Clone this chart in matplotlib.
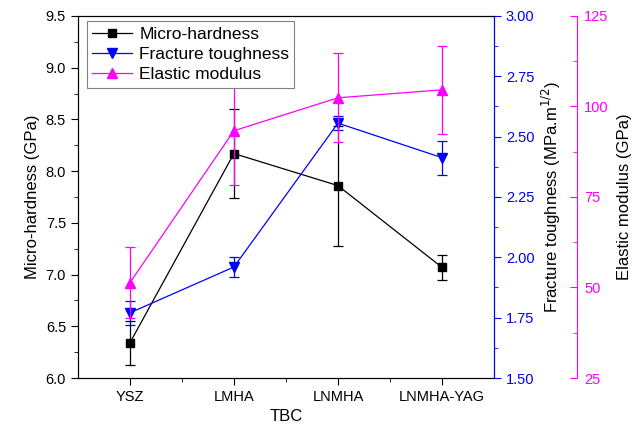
import numpy as np
import matplotlib
matplotlib.use('Agg')
import matplotlib.pyplot as plt
from matplotlib.lines import Line2D

plt.rcParams['font.family'] = ['Liberation Sans', 'DejaVu Sans']

# ==================== Data ====================
tbc = ['YSZ', 'LMHA', 'LNMHA', 'LNMHA-YAG']

hardness = [6.34, 8.17, 7.86, 7.07]
hardness_err = [0.21, 0.43, 0.58, 0.12]

toughness = [1.77, 1.96, 2.556, 2.413]
toughness_err = [0.05, 0.04, 0.03, 0.07]

modulus = [51.3, 93.3, 102.4, 104.6]
modulus_err = [9.8, 15.0, 12.3, 12.2]

x = np.arange(len(tbc))

fig = plt.figure(figsize=(6.44, 4.32), dpi=100)
ax1 = fig.add_axes([0.121, 0.125, 0.646, 0.838])

magenta = '#FF00FF'
blue = '#0000FF'

# ==================== Left axis: micro-hardness ====================
ax1.errorbar(x, hardness, yerr=hardness_err, color='black', marker='s',
             markersize=6, lw=0.9, elinewidth=0.9, capsize=3.5, capthick=0.9)
ax1.set_xlim(-0.5, 3.5)
ax1.set_ylim(6.0, 9.5)
ax1.set_yticks(np.arange(6.0, 9.51, 0.5))
ax1.set_yticks(np.arange(6.25, 9.5, 0.5), minor=True)
ax1.set_ylabel('Micro-hardness (GPa)', fontsize=12)
ax1.set_xlabel('TBC', fontsize=12)
ax1.set_xticks(x)
ax1.set_xticklabels(tbc)
ax1.set_xticks(x[:-1] + 0.5, minor=True)
ax1.tick_params(axis='both', which='major', labelsize=10.5, length=5, direction='out')
ax1.tick_params(axis='both', which='minor', length=3, direction='out')
ax1.tick_params(axis='y', which='both', right=False)
ax1.yaxis.set_major_formatter(matplotlib.ticker.FormatStrFormatter('%.1f'))

# ==================== Right axis 1: fracture toughness ====================
ax2 = ax1.twinx()
ax2.errorbar(x, toughness, yerr=toughness_err, color=blue, marker='v',
             markersize=7.5, lw=0.9, elinewidth=0.9, capsize=3.5, capthick=0.9)
ax2.set_ylim(1.5, 3.0)
ax2.set_yticks(np.arange(1.5, 3.01, 0.25))
ax2.set_yticks(np.arange(1.625, 3.0, 0.25), minor=True)
ax2.yaxis.set_major_formatter(matplotlib.ticker.FormatStrFormatter('%.2f'))
ax2.set_ylabel('Fracture toughness (MPa.m$^{1/2}$)', fontsize=12, color='black')
ax2.spines['right'].set_color(blue)
ax2.tick_params(axis='y', which='major', colors=blue, labelsize=10.5, length=5)
ax2.tick_params(axis='y', which='minor', colors=blue, length=3)

# ==================== Right axis 2: elastic modulus ====================
ax3 = ax1.twinx()
ax3.spines['right'].set_position(('axes', 1.2))
for s in ['top', 'left', 'bottom']:
    ax3.spines[s].set_visible(False)
ax3.errorbar(x, modulus, yerr=modulus_err, color=magenta, marker='^',
             markersize=7.5, lw=0.9, elinewidth=0.9, capsize=3.5, capthick=0.9)
ax3.set_ylim(25, 125)
ax3.set_yticks(np.arange(25, 126, 25))
ax3.set_yticks(np.arange(37.5, 125, 25), minor=True)
ax3.set_ylabel('Elastic modulus (GPa)', fontsize=12, color='black', labelpad=6)
ax3.spines['right'].set_color(magenta)
ax3.tick_params(axis='y', which='major', colors=magenta, labelsize=10.5, length=5,
                direction='in', pad=5)
ax3.tick_params(axis='y', which='minor', colors=magenta, length=3, direction='in')

# ==================== Legend ====================
handles = [
    Line2D([], [], color='black', marker='s', markersize=6, lw=0.9),
    Line2D([], [], color=blue, marker='v', markersize=7.5, lw=0.9),
    Line2D([], [], color=magenta, marker='^', markersize=7.5, lw=0.9),
]
leg = ax3.legend(handles, ['Micro-hardness', 'Fracture toughness', 'Elastic modulus'],
                 loc='upper left', bbox_to_anchor=(0.022, 0.985), fontsize=12.5,
                 fancybox=False, edgecolor='gray', framealpha=1,
                 handlelength=2.3, labelspacing=0.3, borderpad=0.3,
                 handletextpad=0.4, borderaxespad=0)
leg.get_frame().set_linewidth(0.8)

fig.savefig('out.png', dpi=100)
